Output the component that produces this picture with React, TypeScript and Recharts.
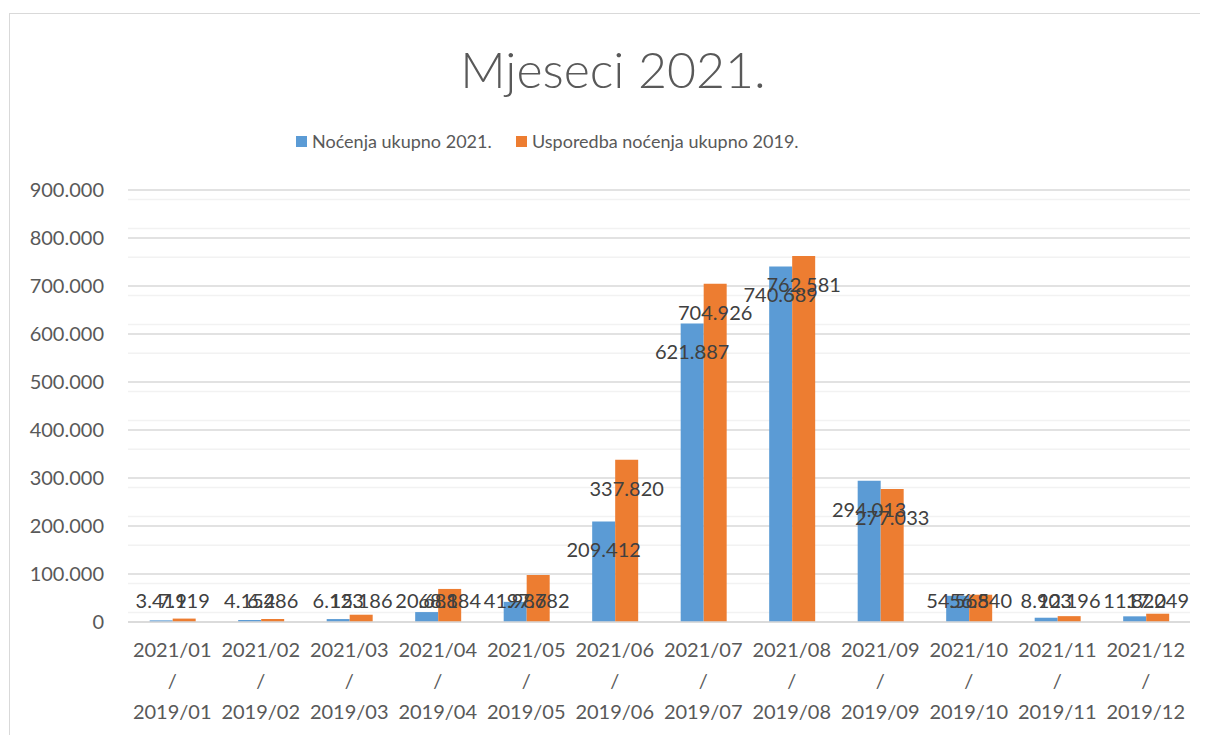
import React from "react";
import {
  BarChart,
  Bar,
  XAxis,
  YAxis,
  CartesianGrid,
  LabelList,
} from "recharts";

const months2021 = [
  "2021/01", "2021/02", "2021/03", "2021/04", "2021/05", "2021/06",
  "2021/07", "2021/08", "2021/09", "2021/10", "2021/11", "2021/12",
];
const months2019 = [
  "2019/01", "2019/02", "2019/03", "2019/04", "2019/05", "2019/06",
  "2019/07", "2019/08", "2019/09", "2019/10", "2019/11", "2019/12",
];
const nocenja2021 = [
  3419, 4154, 6123, 20681, 41987, 209412, 621887, 740689, 294013, 54565, 8903, 11820,
];
const nocenja2019 = [
  7119, 6286, 15186, 68884, 97682, 337820, 704926, 762581, 277033, 56840, 12196, 17249,
];
const yTicks = [0, 100000, 200000, 300000, 400000, 500000, 600000, 700000, 800000, 900000];
const minorTicks = [
  20000, 40000, 60000, 80000, 120000, 140000, 160000, 180000, 220000, 240000, 260000, 280000,
  320000, 340000, 360000, 380000, 420000, 440000, 460000, 480000, 520000, 540000, 560000, 580000,
  620000, 640000, 660000, 680000, 720000, 740000, 760000, 780000, 820000, 840000, 860000, 880000,
];

const COLORS = {
  blue: "#5B9BD5",
  orange: "#ED7D31",
  major: "#D9D9D9",
  minor: "#F2F2F2",
  tick: "#595959",
  label: "#404040",
};

const FONT = "Lato, 'Noto Sans', sans-serif";

const data = months2021.map((m, i) => ({
  top: m,
  bottom: months2019[i],
  v2021: nocenja2021[i],
  v2019: nocenja2019[i],
}));

const fmt = (v: number) =>
  String(v).replace(/\B(?=(\d{3})+(?!\d))/g, ".");

function BarLabel(props: any) {
  const { x, y, width, height, value } = props;
  const cy = Math.min(y + 28, y + height - 22);
  return (
    <text
      x={x + width / 2}
      y={cy}
      textAnchor="middle"
      dominantBaseline="central"
      fill={COLORS.label}
      fontSize={20}
      fontFamily={FONT}
    >
      {fmt(value)}
    </text>
  );
}

function MonthTick(props: any) {
  const { x, y, payload, index } = props;
  const row = data[index] || data.find((d) => d.top === payload.value);
  return (
    <text
      x={x}
      y={y}
      textAnchor="middle"
      fill={COLORS.tick}
      fontSize={20}
      fontFamily={FONT}
    >
      <tspan x={x} dy={35}>{payload.value}</tspan>
      <tspan x={x} dy={31}>/</tspan>
      <tspan x={x} dy={31}>{row ? row.bottom : ""}</tspan>
    </text>
  );
}

function LegendItem({ color, text, left }: { color: string; text: string; left: number }) {
  return (
    <div
      style={{
        position: "absolute",
        top: 120,
        left,
        display: "flex",
        alignItems: "center",
        fontSize: 18,
        color: COLORS.tick,
        lineHeight: "26px",
        whiteSpace: "nowrap",
      }}
    >
      <span style={{ width: 11, height: 11, background: color, marginRight: 5 }} />
      <span>{text}</span>
    </div>
  );
}

export default function App() {
  return (
    <div
      style={{
        position: "relative",
        width: 1200,
        height: 727,
        overflow: "hidden",
        fontFamily: FONT,
        background: "#fff",
      }}
    >
      <div
        style={{
          position: "absolute",
          left: 1,
          top: 5,
          width: 1300,
          height: 800,
          border: `1.5px solid ${COLORS.major}`,
        }}
      />
      <div
        style={{
          position: "absolute",
          left: 0,
          width: 1210,
          top: 31,
          textAlign: "center",
          fontSize: 50,
          fontWeight: 300,
          color: COLORS.tick,
          lineHeight: "60px",
        }}
      >
        Mjeseci 2021.
      </div>
      <LegendItem color={COLORS.blue} text="Noćenja ukupno 2021." left={288} />
      <LegendItem color={COLORS.orange} text="Usporedba noćenja ukupno 2019." left={508} />
      <div style={{ position: "absolute", left: 0, top: 0 }}>
        <BarChart
          width={1200}
          height={727}
          data={data}
          margin={{ top: 182, right: 18, left: 0, bottom: 0 }}
          barCategoryGap="24.5%"
          barGap={0}
        >
          <CartesianGrid
            vertical={false}
            horizontalValues={minorTicks}
            stroke={COLORS.minor}
            strokeWidth={1.5}
          />
          <CartesianGrid vertical={false} stroke={COLORS.major} strokeWidth={1.5} />
          <XAxis
            dataKey="top"
            tick={<MonthTick />}
            tickLine={false}
            tickSize={0}
            tickMargin={0}
            stroke={COLORS.major}
            strokeWidth={1.5}
            interval={0}
            height={113}
          />
          <YAxis
            domain={[0, 900000]}
            ticks={yTicks}
            tickFormatter={(v: number) => fmt(v)}
            axisLine={false}
            tickLine={false}
            tickSize={0}
            tickMargin={24}
            width={120}
            tick={{ fill: COLORS.tick, fontSize: 20, fontFamily: FONT }}
          />
          <Bar dataKey="v2021" fill={COLORS.blue} isAnimationActive={false}>
            <LabelList dataKey="v2021" content={<BarLabel />} />
          </Bar>
          <Bar dataKey="v2019" fill={COLORS.orange} isAnimationActive={false}>
            <LabelList dataKey="v2019" content={<BarLabel />} />
          </Bar>
        </BarChart>
      </div>
    </div>
  );
}
